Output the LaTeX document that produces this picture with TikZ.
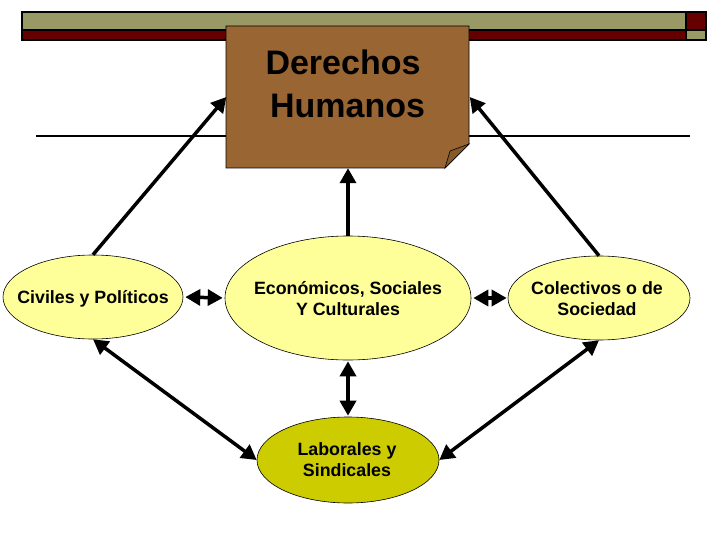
\documentclass[tikz,border=0pt]{standalone}
\usepackage{fontspec}
\setmainfont{Liberation Sans}
\usetikzlibrary{shapes.geometric,arrows.meta}
\definecolor{olivebar}{HTML}{999966}
\definecolor{redbar}{HTML}{660000}
\definecolor{boxbrown}{HTML}{996633}
\definecolor{foldbrown}{HTML}{86592B}
\definecolor{paleyel}{HTML}{FFFF99}
\definecolor{darkyel}{HTML}{CCCC00}
\tikzset{
  ell/.style={ellipse, draw=black, line width=0.6pt, inner sep=0pt},
  etext/.style={anchor=base, inner sep=0pt, font=\fontsize{17.8}{21}\selectfont\bfseries},
  ttext/.style={anchor=base, inner sep=0pt, font=\fontsize{34}{43}\selectfont\bfseries},
  conn/.style={line width=3.5pt, -{Triangle[length=15pt,width=16pt]}},
  dconn/.style={line width=3.5pt, {Triangle[length=15pt,width=16pt]}-{Triangle[length=15pt,width=16pt]}},
}
\begin{document}
\begin{tikzpicture}[x=1pt,y=-1pt]
\useasboundingbox (0,0) rectangle (720,540);
% top bars
\fill[olivebar] (22,12) rectangle (686,30);
\fill[redbar] (22,30) rectangle (686,40);
\fill[redbar] (686,12) rectangle (706,30);
\fill[olivebar] (686,30) rectangle (706,40);
\draw[line width=1.2pt] (22,12) rectangle (706,40);
\draw[line width=1.2pt] (22,30) -- (706,30);
\draw[line width=1.2pt] (686,12) -- (686,40);
% horizontal rule
\draw[line width=1.3pt] (36,136) -- (690,136);
% box
\filldraw[fill=boxbrown, draw=black, line width=0.8pt] (226,26) -- (469,26) -- (469,144) -- (445,168) -- (226,168) -- cycle;
\filldraw[fill=foldbrown, draw=black, line width=0.6pt] (469,144) -- (450,151) -- (445,168) -- cycle;
\node[minimum width=243pt, minimum height=142pt, inner sep=0pt] (box) at (348,97) {};
\node[ttext] (title1) at (343,75) {Derechos};
\node[ttext] (title2) at (347.5,118) {Humanos};
% ellipses
\node[ell, fill=paleyel, minimum width=180pt, minimum height=84pt] (civ) at (93,297) {};
\node[ell, fill=paleyel, minimum width=246pt, minimum height=124pt] (eco) at (348,298) {};
\node[ell, fill=paleyel, minimum width=182pt, minimum height=84pt] (col) at (599,298) {};
\node[ell, fill=darkyel, minimum width=182pt, minimum height=86pt] (lab) at (348,460) {};
\node[etext] (civt) at (93,303.5) {Civiles y Políticos};
\node[etext] (ecot1) at (348,294) {Económicos, Sociales};
\node[etext] (ecot2) at (348,315) {Y Culturales};
\node[etext] (colt1) at (597,294) {Colectivos o de};
\node[etext] (colt2) at (597,315) {Sociedad};
\node[etext] (labt1) at (347,455) {Laborales y};
\node[etext] (labt2) at (347,476) {Sindicales};
% connectors
\draw[conn] (civ.north) -- (box.west);
\draw[conn] (col.north) -- (box.east);
\draw[conn] (eco.north) -- (box.south);
\draw[dconn, shorten <=2pt, shorten >=2pt] (civ.east) -- (eco.west);
\draw[dconn, shorten <=2pt, shorten >=1pt] (eco.east) -- (col.west);
\draw[dconn, shorten <=1pt, shorten >=1pt] (eco.south) -- (lab.north);
\draw[dconn] (civ.south) -- (lab.west);
\draw[dconn] (col.south) -- (lab.east);
\end{tikzpicture}
\end{document}
